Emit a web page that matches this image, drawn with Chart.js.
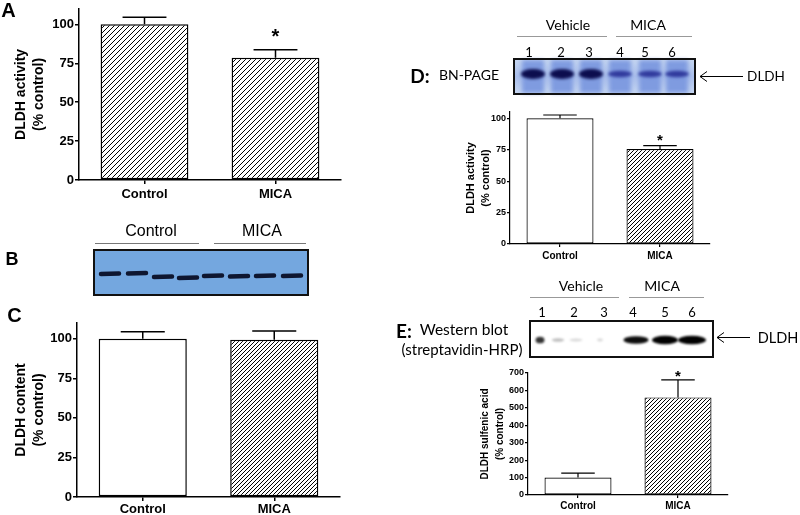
<!DOCTYPE html>
<html>
<head>
<meta charset="utf-8">
<script src="https://cdn.jsdelivr.net/npm/chart.js@4"></script>
<style>
  body { margin: 0; background: #fff; }
  #page { position: relative; width: 800px; height: 515px; overflow: hidden; }
  canvas { position: absolute; }
  .t { position: absolute; white-space: nowrap; line-height: 1; transform: translate(-50%, -50%); color: #000; }
  .arial { font-family: "Liberation Sans", Arial, sans-serif; }
  .cal { font-family: Lato, "Open Sans", sans-serif; }
</style>
</head>
<body>
<div id="page">
  <canvas id="blots" width="800" height="515" style="left:0;top:0"></canvas>
  <canvas id="cA" width="345" height="215" style="left:0;top:0"></canvas>
  <canvas id="cC" width="345" height="215" style="left:0;top:300px"></canvas>
  <canvas id="cD" width="295" height="165" style="left:420px;top:100px"></canvas>
  <canvas id="cE" width="292" height="150" style="left:440px;top:365px"></canvas>
</div>
<script>
// groupes et valeurs (% control)
const categories = ['Control', 'MICA'];

const activityA = [100, 78.5];
const activityAErr = [4.6, 5.2];
const activityASig = [false, true];

const contentC = [100, 99.4];
const contentCErr = [4.4, 5.6];
const contentCSig = [false, false];

const activityD = [100, 75.6];
const activityDErr = [2.6, 2.7];
const activityDSig = [false, true];

const sulfenicE = [100, 560];
const sulfenicEErr = [25, 100];
const sulfenicESig = [false, true];

const ticksPct = [0, 25, 50, 75, 100];
const ticksE = [0, 100, 200, 300, 400, 500, 600, 700];

// blots
const laneNumbers = ['1', '2', '3', '4', '5', '6'];
const bandB = [1, 1, 1, 1, 1, 1, 1, 1];
const bandD = [1, 1, 1, 0.42, 0.38, 0.42];
const bandE = [0.7, 0.65, 0.05, 0.85, 1, 1];

const ARIAL = '"Liberation Sans", Arial, sans-serif';

// motif hachuré
function hatch(p) {
    const c = document.createElement('canvas');
    c.width = p; c.height = p;
    const g = c.getContext('2d');
    g.fillStyle = '#fff';
    g.fillRect(0, 0, p, p);
    g.strokeStyle = '#000';
    g.lineWidth = 1;
    g.beginPath();
    g.moveTo(-1, p + 1); g.lineTo(p + 1, -1);
    g.moveTo(-1, 1); g.lineTo(1, -1);
    g.moveTo(p - 1, p + 1); g.lineTo(p + 1, p - 1);
    g.stroke();
    return g.createPattern(c, 'repeat');
}

// barres d'erreur (vers le haut) + astérisques
const errorPlugin = {
    id: 'errs',
    afterDatasetsDraw(chart, args, opts) {
        const ctx = chart.ctx;
        const meta = chart.getDatasetMeta(0);
        const y = chart.scales.y;
        const vals = chart.data.datasets[0].data;
        ctx.save();
        ctx.strokeStyle = '#000';
        ctx.lineWidth = opts.lw;
        meta.data.forEach((bar, i) => {
            const top = y.getPixelForValue(vals[i] + opts.err[i]);
            const base = y.getPixelForValue(vals[i]);
            const half = bar.width / 4;
            ctx.beginPath();
            ctx.moveTo(bar.x, base);
            ctx.lineTo(bar.x, top);
            ctx.moveTo(bar.x - half, top);
            ctx.lineTo(bar.x + half, top);
            ctx.stroke();
            if (opts.sig[i]) {
                ctx.fillStyle = '#000';
                ctx.font = 'bold ' + opts.starSize + 'px ' + ARIAL;
                ctx.textAlign = 'center';
                ctx.textBaseline = 'alphabetic';
                ctx.fillText('*', bar.x, top - opts.starGap + opts.starSize * 0.57);
            }
        });
        ctx.restore();
    }
};

function barChart(id, g) {
    return new Chart(document.getElementById(id), {
        type: 'bar',
        data: {
            labels: categories,
            datasets: [{
                data: g.values,
                backgroundColor: g.fills,
                borderColor: '#000',
                borderWidth: g.lw,
                borderSkipped: false,
                barPercentage: 0.67,
                categoryPercentage: 1
            }]
        },
        plugins: [errorPlugin],
        options: {
            responsive: false,
            animation: false,
            layout: { padding: { top: g.padTop, right: g.padRight, left: 0, bottom: 0 } },
            plugins: {
                legend: { display: false },
                tooltip: { enabled: false },
                errs: { err: g.err, sig: g.sig, lw: g.lw, starSize: g.starSize, starGap: g.starGap }
            },
            scales: {
                x: {
                    afterFit: s => { s.height = g.xh; },
                    grid: { display: true, offset: false, drawOnChartArea: false, drawTicks: true, tickLength: g.tick, color: '#000', lineWidth: g.lw },
                    border: { display: true, color: '#000', width: g.lw },
                    ticks: { color: '#000', padding: g.xPad, font: { family: ARIAL, size: g.xFont, weight: 'bold' } }
                },
                y: {
                    min: 0,
                    max: g.max,
                    afterFit: s => { s.width = g.yw; },
                    afterBuildTicks: s => { s.ticks = g.ticks.map(v => ({ value: v })); },
                    grid: { display: true, drawOnChartArea: false, drawTicks: true, tickLength: g.tick, color: '#000', lineWidth: g.lw },
                    border: { display: true, color: '#000', width: g.lw },
                    ticks: { color: '#000', padding: 1, font: { family: ARIAL, size: g.yFont, weight: 'bold' } },
                    title: {
                        display: true,
                        text: g.title,
                        color: '#000',
                        padding: { top: g.titlePad, bottom: 0 },
                        font: { family: ARIAL, size: g.titleFont, weight: 'bold', lineHeight: g.titleLH / g.titleFont }
                    }
                }
            }
        }
    });
}

barChart('cA', {
    values: activityA, err: activityAErr, sig: activityASig,
    fills: [hatch(5), hatch(5)],
    max: 110, ticks: ticksPct, yw: 79, xh: 35, padTop: 5, padRight: 4,
    lw: 1.5, tick: 4, yFont: 13, xFont: 13, xPad: 3,
    title: ['DLDH activity', '(% control)'], titleFont: 14, titleLH: 18, titlePad: 12,
    starSize: 20, starGap: 18
});

barChart('cC', {
    values: contentC, err: contentCErr, sig: contentCSig,
    fills: ['#fff', hatch(4)],
    max: 110, ticks: ticksPct, yw: 77, xh: 18, padTop: 23, padRight: 5,
    lw: 1.5, tick: 4, yFont: 13, xFont: 13, xPad: 1,
    title: ['DLDH content', '(% control)'], titleFont: 14, titleLH: 18, titlePad: 12,
    starSize: 20, starGap: 16
});

barChart('cD', {
    values: activityD, err: activityDErr, sig: activityDSig,
    fills: ['#fff', hatch(4)],
    max: 105, ticks: ticksPct, yw: 90, xh: 21, padTop: 12, padRight: 5,
    lw: 1.2, tick: 3, yFont: 9, xFont: 10, xPad: 3,
    title: ['DLDH activity', '(% control)'], titleFont: 11, titleLH: 15, titlePad: 43,
    starSize: 15, starGap: 9
});

barChart('cE', {
    values: sulfenicE, err: sulfenicEErr, sig: sulfenicESig,
    fills: ['#fff', hatch(4)],
    max: 700, ticks: ticksE, yw: 88, xh: 20, padTop: 8, padRight: 4,
    lw: 1.2, tick: 3, yFont: 9, xFont: 10, xPad: 2,
    title: ['DLDH sulfenic acid', '(% control)'], titleFont: 10, titleLH: 15, titlePad: 38,
    starSize: 15, starGap: 8
});

// ---- blots, traits et flèches ----
const bc = document.getElementById('blots').getContext('2d');

function band(cx, cy, w, h, color, blur) {
    bc.save();
    bc.filter = 'blur(' + blur + 'px)';
    bc.fillStyle = color;
    bc.beginPath();
    bc.ellipse(cx, cy, w / 2, h / 2, 0, 0, Math.PI * 2);
    bc.fill();
    bc.restore();
}

function frame(x0, y0, x1, y1) {
    bc.strokeStyle = '#111';
    bc.lineWidth = 2;
    bc.strokeRect(x0, y0, x1 - x0, y1 - y0);
}

function hline(x0, x1, y, color) {
    bc.strokeStyle = color;
    bc.lineWidth = 1;
    bc.beginPath();
    bc.moveTo(x0, y + 0.5);
    bc.lineTo(x1, y + 0.5);
    bc.stroke();
}

function arrow(x0, x1, y) {
    bc.strokeStyle = '#000';
    bc.lineWidth = 1;
    bc.beginPath();
    bc.moveTo(x1, y + 0.5); bc.lineTo(x0, y + 0.5);
    bc.moveTo(x0 + 7, y - 4.5); bc.lineTo(x0, y + 0.5); bc.lineTo(x0 + 7, y + 5.5);
    bc.stroke();
}

// B
bc.fillStyle = '#74a7df';
bc.fillRect(94, 250, 214, 45);
const bX = [110, 137, 163, 188, 213, 239, 265, 292];
const bY = [274, 273.5, 277, 278, 276, 276.5, 276, 276];
bX.forEach((x, i) => {
    bc.save();
    bc.filter = 'blur(0.7px)';
    bc.strokeStyle = 'rgba(14,22,48,' + bandB[i] + ')';
    bc.lineWidth = 4.5;
    bc.lineCap = 'round';
    bc.beginPath();
    bc.moveTo(x - 9, bY[i]);
    bc.lineTo(x + 9, bY[i] - 0.5);
    bc.stroke();
    bc.restore();
});
frame(94, 250, 308, 295);
hline(95, 199, 243, '#777');
hline(214, 306, 243, '#777');

// D
const dGrad = bc.createLinearGradient(0, 59, 0, 94);
dGrad.addColorStop(0, '#c8d8f2');
dGrad.addColorStop(0.5, '#aabfec');
dGrad.addColorStop(1, '#c8d8f2');
bc.fillStyle = dGrad;
bc.fillRect(514, 59, 181, 35);
const dX = [533, 562, 591, 620, 650, 677];
dX.forEach((x, i) => {
    bc.save();
    bc.filter = 'blur(2px)';
    bc.fillStyle = '#7f9be0';
    bc.fillRect(x - 11, 60, 22, 33);
    bc.restore();
    const a = bandD[i];
    band(x, 74, 24, 4 + 6 * a, a > 0.5 ? '#0c0d4e' : 'rgba(40,48,150,0.9)', 1.8);
});
frame(514, 59, 695, 94);
hline(517, 607, 36, '#999');
hline(616, 692, 36, '#999');
arrow(700, 743, 76);

// E
bc.fillStyle = '#fff';
bc.fillRect(530, 321, 183, 36);
const eBands = [[540, 9, 0], [558, 12, 1], [576, 13, 2], [600, 6, 2], [636, 25, 3], [665, 26, 4], [692, 28, 5]];
eBands.forEach(([x, w, k], j) => {
    let a = bandE[k];
    if (j === 1) a = 0.15;
    const h = 2.5 + 6 * a;
    band(x, 340, w, h, 'rgba(0,0,0,' + Math.min(1, a + 0.1) + ')', 1);
});
frame(530, 321, 713, 357);
hline(530, 619, 297, '#999');
hline(629, 704, 297, '#999');
arrow(717, 750, 337);

// ---- textes ----
const page = document.getElementById('page');
function label(txt, x, y, cls, size, weight) {
    const d = document.createElement('div');
    d.className = 't ' + cls;
    d.textContent = txt;
    d.style.left = x + 'px';
    d.style.top = y + 'px';
    d.style.fontSize = size + 'px';
    d.style.fontWeight = weight || 'normal';
    page.appendChild(d);
}

label('A', 8.5, 10, 'arial', 20, 'bold');
label('B', 12, 258.5, 'arial', 18, 'bold');
label('C', 14.5, 315, 'arial', 20, 'bold');
label('Control', 151, 231, 'arial', 16);
label('MICA', 262, 231, 'arial', 16);

label('Vehicle', 568, 25, 'cal', 14);
label('MICA', 648, 25, 'cal', 14);
const dNumX = [529, 561, 589, 620, 645, 672];
laneNumbers.forEach((n, i) => label(n, dNumX[i], 52, 'cal', 13));
label('D:', 420, 75, 'cal', 19, 'bold');
label('BN-PAGE', 469, 75, 'cal', 14);
label('DLDH', 766, 77, 'cal', 13.5);

label('Vehicle', 581, 286, 'cal', 14);
label('MICA', 662, 286, 'cal', 14);
const eNumX = [542, 574, 604, 633, 665, 692];
laneNumbers.forEach((n, i) => label(n, eNumX[i], 312, 'cal', 13));
label('E:', 404, 330, 'cal', 19, 'bold');
label('Western blot', 464, 330, 'cal', 15.5);
label('(streptavidin-HRP)', 462, 349, 'cal', 15);
label('DLDH', 778, 338, 'cal', 14.5);
</script>
</body>
</html>
